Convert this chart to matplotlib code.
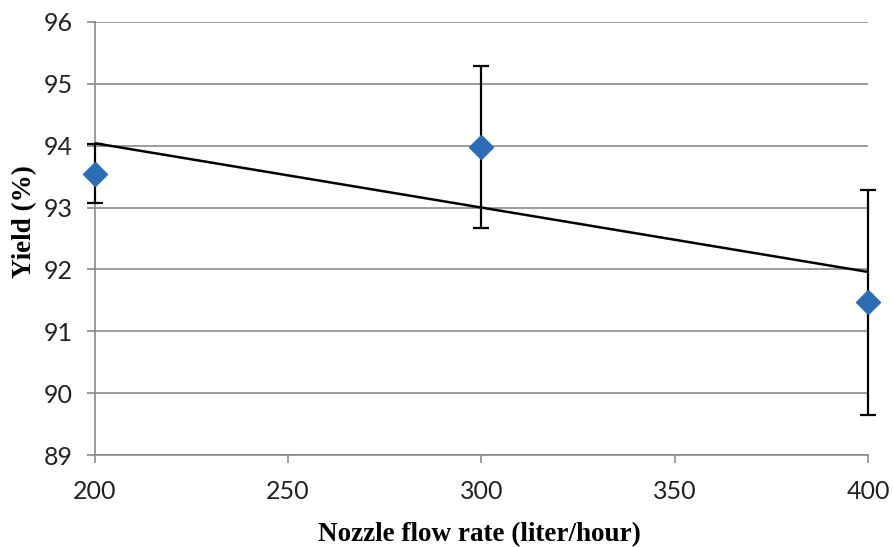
import numpy as np
import matplotlib
matplotlib.use("Agg")
import matplotlib.pyplot as plt

flow_rate = [200, 300, 400]
yield_pct = [93.55, 93.98, 91.47]
yield_err = [0.47, 1.31, 1.82]
x_ticks = [200, 250, 300, 350, 400]
y_ticks = [89, 90, 91, 92, 93, 94, 95, 96]

fig = plt.figure(figsize=(8.93, 5.47), dpi=100)
ax = fig.add_axes([0.106, 0.168, 0.866, 0.792])

ax.set_xlim(200, 400)
ax.set_ylim(89, 96)
ax.set_xticks(x_ticks)
ax.set_yticks(y_ticks)
ax.yaxis.grid(True, color="#8a8a8a", linewidth=1.2)
ax.set_axisbelow(True)
for s in ["top", "right"]:
    ax.spines[s].set_visible(False)
for s in ["left", "bottom"]:
    ax.spines[s].set_color("#8a8a8a")
    ax.spines[s].set_linewidth(1.2)
ax.tick_params(axis="y", length=6, color="#8a8a8a", width=1.2, pad=10)
ax.tick_params(axis="x", length=6, color="#8a8a8a", width=1.2, pad=12)
for lab in ax.get_xticklabels() + ax.get_yticklabels():
    lab.set_fontfamily("Lato")
    lab.set_fontsize(18)
    lab.set_color("#222222")

# linear trend line
coef = np.polyfit(flow_rate, yield_pct, 1)
xs = np.array([flow_rate[0], flow_rate[-1]])
ax.plot(xs, np.polyval(coef, xs), color="black", linewidth=1.8, zorder=3)

ax.errorbar(flow_rate, yield_pct, yerr=yield_err, fmt="D", color="#2c6db5",
            markersize=12, ecolor="black", elinewidth=1.6, capsize=6,
            capthick=1.6, zorder=4, clip_on=False)

ax.set_xlabel("Nozzle flow rate (liter/hour)", fontfamily="Liberation Serif",
              fontweight="bold", fontsize=19.5)
ax.set_ylabel("Yield (%)", fontfamily="Liberation Serif", fontweight="bold",
              fontsize=19.5)
ax.xaxis.set_label_coords(0.498, -0.155)
ax.yaxis.set_label_coords(-0.075, 0.538)

fig.savefig("out.png", dpi=100)
